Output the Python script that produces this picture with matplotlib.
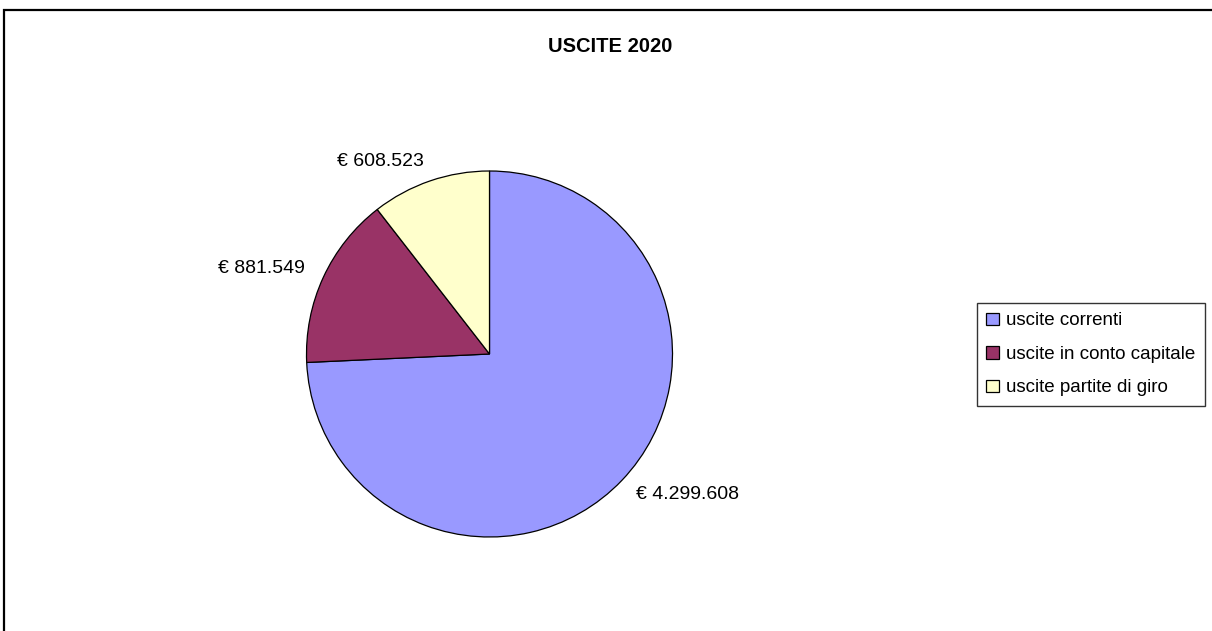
import matplotlib
matplotlib.use("Agg")
import matplotlib.pyplot as plt
from matplotlib.patches import Rectangle

plt.rcParams["font.family"] = ["Liberation Sans", "DejaVu Sans"]

# Data
categories = ["uscite correnti", "uscite in conto capitale", "uscite partite di giro"]
values = [4299608, 881549, 608523]
value_labels = ["€ 4.299.608", "€ 881.549", "€ 608.523"]
colors = ["#9999FF", "#993366", "#FFFFCC"]

W, H = 1212, 631
fig = plt.figure(figsize=(W / 100, H / 100), dpi=100)

# outer frame of the chart area (right and bottom edges fall outside the image)
fig.patches.append(Rectangle((4 / W, -0.05), 1.1, 1.05 - 10 / H,
                             transform=fig.transFigure, fill=False,
                             edgecolor="black", linewidth=1.6))

fig.text(610 / W, 1 - 47 / H, "USCITE 2020", ha="center", va="center",
         fontsize=14.5, fontweight="bold")

cx, cy, r = 489.5, 354, 183
ax = fig.add_axes([(cx - r) / W, (H - cy - r) / H, 2 * r / W, 2 * r / H])
wedges, texts = ax.pie(values, labels=value_labels, colors=colors,
                       startangle=90, counterclock=False, labeldistance=1.11,
                       wedgeprops=dict(edgecolor="black", linewidth=0.9),
                       textprops=dict(fontsize=14))
ax.set_xlim(-1, 1)
ax.set_ylim(-1, 1)
ax.set_aspect("equal")
ax.axis("off")

leg = fig.legend(wedges, categories, loc="upper left",
                 bbox_to_anchor=(977 / W, 1 - 303 / H), borderaxespad=0,
                 fontsize=13.5, frameon=True, fancybox=False, edgecolor="black",
                 handlelength=0.65, handleheight=0.65, handletextpad=0.4,
                 labelspacing=0.88, borderpad=0.5)
leg.get_frame().set_linewidth(1.0)

fig.savefig("out.png", dpi=100)
